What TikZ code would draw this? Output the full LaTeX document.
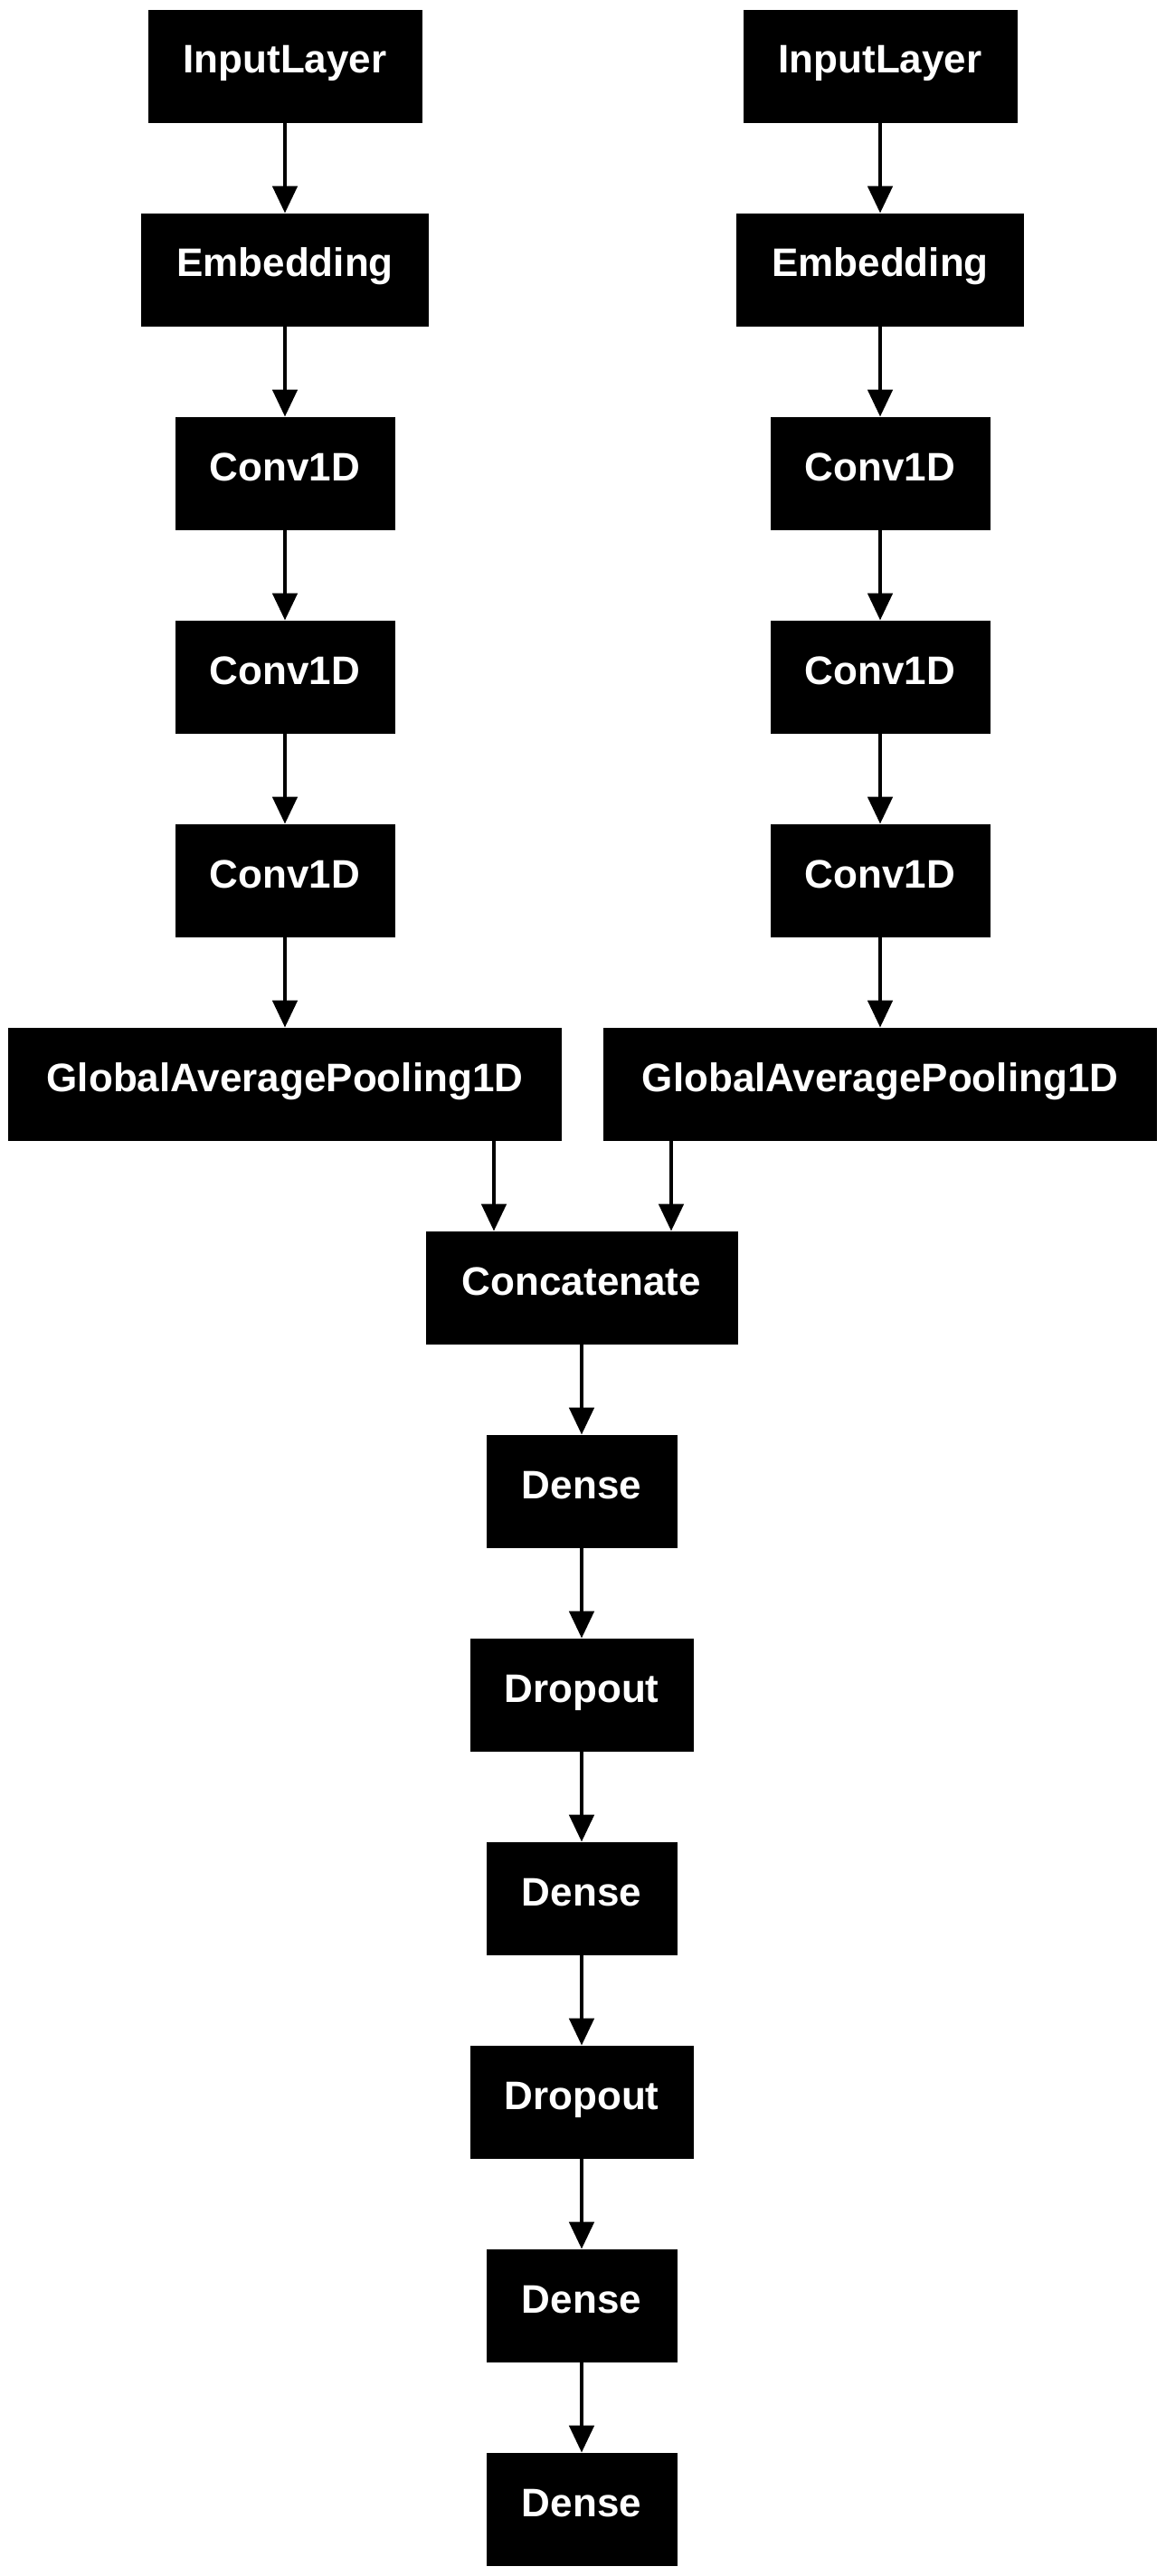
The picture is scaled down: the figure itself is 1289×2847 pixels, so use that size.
\documentclass[tikz,border=0pt]{standalone}
\usepackage{fontspec}
\setmainfont{Liberation Sans}
\usetikzlibrary{arrows.meta}
\begin{document}
\begin{tikzpicture}[x=0.5pt,y=-0.5pt,
  layer/.style={fill=black,text=white,font=\bfseries\fontsize{22}{26}\selectfont,
    inner sep=0pt,minimum height=62.5pt,text height=12pt,text depth=4.5pt},
  conn/.style={line width=2.4pt,-{Triangle[length=15pt,width=13.5pt]}}]
\useasboundingbox (0,0) rectangle (1289,2847);
\fill[white] (0,0) rectangle (1289,2847);
% left branch
\node[layer,minimum width=151.5pt] (inA) at (315,73.5) {InputLayer};
\node[layer,minimum width=159pt] (emA) at (315,298.5) {Embedding};
\node[layer,minimum width=121.5pt] (c1A) at (315,523.5) {Conv1D};
\node[layer,minimum width=121.5pt] (c2A) at (315,748.5) {Conv1D};
\node[layer,minimum width=121.5pt] (c3A) at (315,973.5) {Conv1D};
\node[layer,minimum width=306pt] (gpA) at (315,1198.5) {GlobalAveragePooling1D};
% right branch
\node[layer,minimum width=151.5pt] (inB) at (973,73.5) {InputLayer};
\node[layer,minimum width=159pt] (emB) at (973,298.5) {Embedding};
\node[layer,minimum width=121.5pt] (c1B) at (973,523.5) {Conv1D};
\node[layer,minimum width=121.5pt] (c2B) at (973,748.5) {Conv1D};
\node[layer,minimum width=121.5pt] (c3B) at (973,973.5) {Conv1D};
\node[layer,minimum width=306pt] (gpB) at (973,1198.5) {GlobalAveragePooling1D};
% trunk
\node[layer,minimum width=172.5pt] (cat) at (643,1423.5) {Concatenate};
\node[layer,minimum width=105.5pt] (d1) at (643,1648.5) {Dense};
\node[layer,minimum width=123.5pt] (o1) at (643,1873.5) {Dropout};
\node[layer,minimum width=105.5pt] (d2) at (643,2098.5) {Dense};
\node[layer,minimum width=123.5pt] (o2) at (643,2323.5) {Dropout};
\node[layer,minimum width=105.5pt] (d3) at (643,2548.5) {Dense};
\node[layer,minimum width=105.5pt] (d4) at (643,2773.5) {Dense};
% connectors
\draw[conn] (inA) -- (emA);
\draw[conn] (emA) -- (c1A);
\draw[conn] (c1A) -- (c2A);
\draw[conn] (c2A) -- (c3A);
\draw[conn] (c3A) -- (gpA);
\draw[conn] (inB) -- (emB);
\draw[conn] (emB) -- (c1B);
\draw[conn] (c1B) -- (c2B);
\draw[conn] (c2B) -- (c3B);
\draw[conn] (c3B) -- (gpB);
\draw[conn] (gpA.south -| 546,0) -- (cat.north -| 546,0);
\draw[conn] (gpB.south -| 742,0) -- (cat.north -| 742,0);
\draw[conn] (cat) -- (d1);
\draw[conn] (d1) -- (o1);
\draw[conn] (o1) -- (d2);
\draw[conn] (d2) -- (o2);
\draw[conn] (o2) -- (d3);
\draw[conn] (d3) -- (d4);
\end{tikzpicture}
\end{document}
